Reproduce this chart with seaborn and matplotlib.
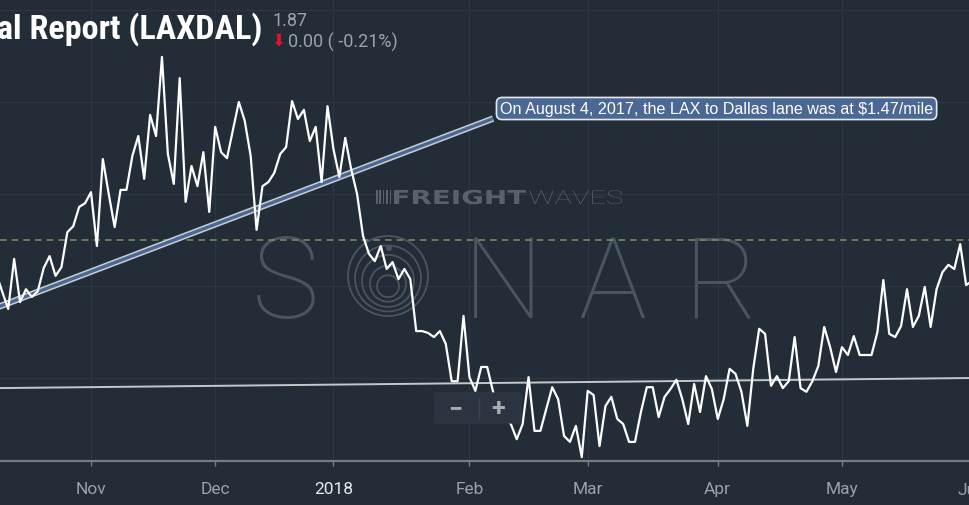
import matplotlib
matplotlib.use('Agg')
import matplotlib.pyplot as plt
import matplotlib.transforms as mtransforms
from matplotlib.patches import FancyBboxPatch, Ellipse, PathPatch, Rectangle
from matplotlib.textpath import TextPath
from matplotlib.font_manager import FontProperties
import numpy as np
import pandas as pd
import seaborn as sns

# --- data (business days, holidays skipped) ---
start_date = '2017-10-10'
holidays = ['2017-11-23', '2017-12-25', '2018-05-28']
rate = [
    1.826, 1.787, 1.750, 1.859, 1.765, 1.793, 1.776, 1.789, 1.839, 1.865, 1.822, 1.841, 1.917, 1.930, 1.972, 1.980,
    2.004, 1.887, 2.076, 2.000, 1.928, 2.009, 2.009, 2.083, 2.126, 2.033, 2.172, 2.126, 2.298, 2.087, 2.022, 2.252,
    1.983, 2.061, 2.017, 2.091, 1.961,
    2.146, 2.091, 2.078, 2.139, 2.200, 2.159, 2.083, 1.922, 2.017, 2.026, 2.046, 2.087, 2.102, 2.202, 2.163, 2.183,
    2.115, 2.146, 2.026, 2.191,
    2.098, 2.037, 2.122, 2.054, 2.000, 1.909, 1.870, 1.854, 1.887, 1.837, 1.852, 1.815, 1.837, 1.815, 1.702, 1.702,
    1.698, 1.689, 1.702, 1.674, 1.593, 1.593, 1.735,
    1.602, 1.572, 1.624, 1.624, 1.570, 1.543, 1.515, 1.500, 1.467, 1.500, 1.602, 1.485, 1.485, 1.533, 1.580, 1.554,
    1.474, 1.461, 1.496, 1.428,
    1.572, 1.563, 1.452, 1.539, 1.559, 1.511, 1.500, 1.461, 1.461, 1.526, 1.580, 1.580, 1.515, 1.559, 1.576, 1.596,
    1.554, 1.500, 1.587, 1.526, 1.604, 1.576,
    1.511, 1.554, 1.620, 1.609, 1.570, 1.496, 1.620, 1.707, 1.696, 1.583, 1.604, 1.578, 1.593, 1.689, 1.578, 1.570,
    1.593, 1.626, 1.711, 1.667, 1.613,
    1.667, 1.650, 1.691, 1.650, 1.650, 1.650, 1.700, 1.813, 1.696, 1.689, 1.713, 1.793, 1.711, 1.735, 1.798, 1.711,
    1.793, 1.830, 1.846, 1.837, 1.891, 1.802,
    1.811,
]
trend_up_dates = ['2017-10-10', '2018-02-07']
trend_up_vals = [1.753, 2.164]
support_dates = ['2017-10-10', '2018-06-01']
support_vals = [1.578, 1.600]
ref_level = 1.90
grid_levels = [1.4, 1.6, 1.8, 2.0, 2.2, 2.4]
month_starts = ['2017-11-01', '2017-12-01', '2018-01-01', '2018-02-01', '2018-03-01',
                '2018-04-01', '2018-05-01', '2018-06-01']
month_labels = ['Nov', 'Dec', '2018', 'Feb', 'Mar', 'Apr', 'May', 'Jun']
title = 'al Report (LAXDAL)'
note = 'On August 4, 2017, the LAX to Dallas lane was at $1.47/mile'

dates = pd.bdate_range(start_date, periods=len(rate), freq='C', holidays=holidays)
df = pd.DataFrame({'pos': np.arange(len(dates)), 'rate': rate})

BG = '#232d38'
W, H = 970, 506
YMIN, YMAX = 2.0 - 267 / 460, 2.0 + 195 / 460


def fx(x):
    return x / W


def fy(y):
    return 1 - y / H


def stretched_text(ax, s, x0, x1, ybase, cap, prop, color):
    # word drawn as a path, fitted to a pixel box (x0..x1, cap height)
    tp = TextPath((0, 0), s, size=cap / 0.73, prop=prop)
    ext = tp.get_extents()
    sx = (x1 - x0) / ext.width
    tr = mtransforms.Affine2D().translate(-ext.x0, 0).scale(sx, 1).translate(x0, H - ybase)
    ax.add_patch(PathPatch(tr.transform_path(tp), transform=mtransforms.IdentityTransform(),
                           fc=color, ec='none', zorder=1))


sns.set_style('dark', {'axes.facecolor': BG, 'figure.facecolor': BG})
plt.rcParams['font.family'] = ['Roboto', 'DejaVu Sans']

fig = plt.figure(figsize=(9.7, 5.06), dpi=100)
fig.patch.set_facecolor(BG)
ax = fig.add_axes([0, 44 / H, 1, 462 / H])
ax.set_facecolor(BG)

sns.lineplot(data=df, x='pos', y='rate', color='white', lw=1.6, ax=ax, zorder=5)

# trendlines
up_x = [dates.get_loc(pd.Timestamp(d)) for d in trend_up_dates]
ax.plot(up_x, trend_up_vals, color='#c9cdd4', lw=4.6, solid_capstyle='butt', zorder=4)
ax.plot(up_x, trend_up_vals, color='#4b6894', lw=2.4, solid_capstyle='butt', zorder=4)
sup_x = [dates.get_loc(pd.Timestamp(d)) for d in support_dates]
ax.plot(sup_x, support_vals, color='#c4c8cc', lw=1.4, zorder=4)

ax.axhline(ref_level, color='#6f8d5e', lw=1.2, ls=(0, (4, 3)), zorder=3)

# axes
left = 16 - 91 / 5.913
ax.set_xlim(left, left + W / 5.913)
ax.set_ylim(YMIN, YMAX)
ax.set_autoscale_on(False)
ax.set_yticks(grid_levels)
ax.tick_params(axis='y', left=False, labelleft=False)
ax.grid(True, color='#2c3743', lw=1)
for s in ['top', 'left', 'right']:
    ax.spines[s].set_visible(False)
ax.spines['bottom'].set_color('#737b84')
ax.spines['bottom'].set_linewidth(1.6)
ax.set_xlabel('')
ax.set_ylabel('')

tick_pos = [dates.searchsorted(pd.Timestamp(m)) for m in month_starts]
xmax = ax.get_xlim()[1]
in_pos = [p for p in tick_pos if p <= xmax]
in_lab = [l for p, l in zip(tick_pos, month_labels) if p <= xmax]
ax.set_xticks(in_pos)
ax.set_xticklabels(in_lab)
ax.tick_params(axis='x', direction='out', length=3.6, width=1, color='#737b84',
               pad=10.5, labelsize=12.5, bottom=True)
for t in ax.get_xticklabels():
    t.set_color('#e8eaec' if t.get_text() == '2018' else '#9aa1a8')
blend = mtransforms.blended_transform_factory(ax.transData, fig.transFigure)
for p, l in zip(tick_pos, month_labels):
    if p > xmax:
        ax.text(p, fy(491), l, transform=blend, ha='center', va='center',
                fontsize=12.5, color='#9aa1a8', clip_on=False)

# watermark
wm = '#4a5561'
stretched_text(ax, 'FREIGHT', 394, 526, 205, 14,
               FontProperties(family='DejaVu Sans', weight='bold'), '#58626c')
stretched_text(ax, 'WAVES', 529, 622, 205, 14,
               FontProperties(family='Roboto', weight='light'), '#58626c')
for i in range(5):
    ax.add_patch(Rectangle((376 + i * 3.4, H - 205), 1.6, 14, transform=mtransforms.IdentityTransform(),
                           fc='#58626c', ec='none', zorder=1))
for ch, cx in zip(['S', 'N', 'A', 'R'], [285, 503, 612, 720]):
    ax.text(fx(cx), fy(318), ch, transform=fig.transFigure, fontsize=82, fontweight=100,
            color=wm, ha='center', va='baseline', zorder=1)
for r in [40, 33, 26, 18, 11]:
    cy = 277 + (40 - r) * 0.35
    ax.add_patch(Ellipse((fx(388), fy(cy)), 2 * r / W, 2 * r / H, transform=fig.transFigure,
                         fill=False, ec=wm, lw=1.3, zorder=1))
ax.add_patch(Ellipse((fx(389), fy(249)), 6 / W, 6 / H, transform=fig.transFigure,
                     fc=wm, ec='none', zorder=1))

# zoom buttons
ax.add_patch(FancyBboxPatch((fx(435), fy(424)), fx(86), 30 / H,
                            boxstyle='round,pad=0,rounding_size=0.004', transform=fig.transFigure,
                            fc='#2a3541', ec='#2e3946', lw=1, zorder=10))
ax.plot([fx(479), fx(479)], [fy(399), fy(420)], transform=fig.transFigure, color='#3b4650', lw=1, zorder=11)
ax.text(fx(455), fy(409), '−', transform=fig.transFigure, fontsize=18, fontweight='bold',
        color='#a7adb3', ha='center', va='center', zorder=11)
ax.text(fx(498), fy(409), '+', transform=fig.transFigure, fontsize=18, fontweight='bold',
        color='#a7adb3', ha='center', va='center', zorder=11)

# callout
ax.annotate(note, xy=(up_x[1], trend_up_vals[1]), xycoords='data',
            xytext=(fx(500), fy(109.5)), textcoords='figure fraction',
            ha='left', va='center', fontsize=11.6, color='white',
            family=['Liberation Sans', 'DejaVu Sans'],
            bbox=dict(boxstyle='round,pad=0.22,rounding_size=0.35', fc='#4b6894', ec='#e4e7ec', lw=1.2),
            zorder=8)

# header
fig.text(fx(262), fy(39), title, ha='right', va='baseline', fontsize=24.6, fontweight='bold',
         color='white', family=['Roboto Condensed', 'Liberation Sans Narrow', 'Roboto'])
fig.text(fx(273), fy(26), '1.87', ha='left', va='baseline', fontsize=13, color='#9ca2a9')
fig.text(fx(278.5), fy(41), '⬇', ha='center', va='center', fontsize=12, color='#e8112d',
         family=['DejaVu Sans'])
fig.text(fx(288), fy(48), '0.00 ( -0.21%)', ha='left', va='baseline', fontsize=13, color='#9ca2a9')

ax.set_ylim(YMIN, YMAX)
fig.savefig('out.png', dpi=100, facecolor=BG)
